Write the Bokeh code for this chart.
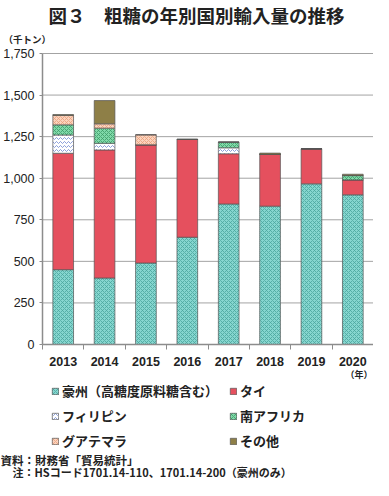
from bokeh.plotting import figure
from bokeh.models import (Range1d, FixedTicker, NumeralTickFormatter, Legend,
                          LegendItem, Label, ColumnDataSource)
from bokeh.embed import file_html
from bokeh.resources import INLINE

years = [2013, 2014, 2015, 2016, 2017, 2018, 2019, 2020]
australia = [450, 400, 490, 645, 845, 832, 966, 900]
thailand = [700, 770, 711, 588, 302, 311, 211, 90]
philippines = [110, 40, 0, 0, 36, 0, 0, 0]
south_africa = [61, 91, 0, 0, 34, 0, 0, 26]
guatemala = [56, 26, 60, 0, 0, 0, 0, 0]
others = [6, 140, 0, 2, 0, 8, 0, 8]

series = ["australia", "thailand", "philippines", "south_africa", "guatemala", "others"]
series_labels = ["豪州（高糖度原料糖含む）", "タイ", "フィリピン", "南アフリカ", "グアテマラ", "その他"]
y_ticks = [0, 250, 500, 750, 1000, 1250, 1500, 1750]

title_text = "図３　粗糖の年別国別輸入量の推移"
unit_text = "（千トン）"
year_text = "（年）"
note1 = "資料：財務省「貿易統計」"
note2 = "注：HSコード1701.14-110、1701.14-200（豪州のみ）"

src = ColumnDataSource(dict(year=years, australia=australia, thailand=thailand,
                            philippines=philippines, south_africa=south_africa,
                            guatemala=guatemala, others=others))

JP = "Noto Sans CJK JP"
NUM = "Liberation Sans"
TXT = "#222222"
AX = "#8c8c8c"

# canvas / plot-area geometry in pixels (canvas top-left origin)
W, H = 373, 480
PL, PR, PT, PB = 42, 373, 53, 344
x0, x1 = years[0] - 0.5, years[-1] + 0.5
y0, y1 = 0, 1750
xs = (PR - PL) / (x1 - x0)
ys = (PB - PT) / (y1 - y0)
x_range = Range1d(x0 - PL / xs, x1 + (W - PR) / xs)
y_range = Range1d(y0 - (H - PB) / ys, y1 + PT / ys)

p = figure(width=W, height=H, output_backend="svg", toolbar_location=None,
           x_range=x_range, y_range=y_range,
           min_border=0, min_border_left=0, min_border_right=0,
           min_border_top=0, min_border_bottom=0)
p.outline_line_color = None
p.background_fill_color = "white"
p.border_fill_color = "white"
p.xgrid.visible = False
p.ygrid.visible = False

# horizontal gridlines over the plot area
p.segment(x0=[x0] * len(y_ticks[1:]), x1=[x1] * len(y_ticks[1:]),
          y0=y_ticks[1:], y1=y_ticks[1:], line_color="#a3a3a3", line_width=1)

fills = ["#86d6cf", "#e5505e", "#ffffff", "#80d9a9", "#fbd3bd", "#8e7f47"]
hatches = ["diagonal_cross", " ", "horizontal_wave", "diagonal_cross", "diagonal_cross", " "]
hatch_colors = ["#4aa69d", "#e5505e", "#7088d0", "#3c9a68", "#e8a07c", "#8e7f47"]

rends = p.vbar_stack(series, x="year", width=0.5, source=src,
                     fill_color=fills, hatch_pattern=hatches, hatch_color=hatch_colors,
                     hatch_scale=4, hatch_weight=0.8,
                     line_color="#555555", line_width=0.7)

# axes, pinned to the plot area
p.yaxis.fixed_location = x0
p.yaxis.bounds = (y0, y1)
p.yaxis.ticker = FixedTicker(ticks=y_ticks)
p.yaxis.formatter = NumeralTickFormatter(format="0,0")
p.yaxis.axis_line_color = AX
p.yaxis.axis_line_width = 1.5
p.yaxis.major_tick_line_color = AX
p.yaxis.major_tick_out = 3
p.yaxis.major_tick_in = 0
p.yaxis.minor_tick_line_color = None
p.yaxis.major_label_standoff = 5
p.yaxis.major_label_text_font = NUM
p.yaxis.major_label_text_font_size = "12.5px"
p.yaxis.major_label_text_color = TXT

p.xaxis.fixed_location = y0
p.xaxis.bounds = (x0, x1)
p.xaxis.ticker = FixedTicker(ticks=years,
                             minor_ticks=[y - 0.5 for y in years] + [x1])
p.xaxis.axis_line_color = AX
p.xaxis.axis_line_width = 1.5
p.xaxis.major_tick_line_color = None
p.xaxis.major_tick_out = 0
p.xaxis.major_tick_in = 0
p.xaxis.minor_tick_line_color = AX
p.xaxis.minor_tick_out = 5
p.xaxis.minor_tick_in = 0
p.xaxis.major_label_standoff = 7
p.xaxis.major_label_text_font = NUM
p.xaxis.major_label_text_font_size = "12.5px"
p.xaxis.major_label_text_font_style = "bold"
p.xaxis.major_label_text_color = TXT

# legend (column-major order for 2 columns)
order = [0, 2, 4, 1, 3, 5]
items = [LegendItem(label=series_labels[i], renderers=[rends[i]]) for i in order]
legend = Legend(items=items, ncols=2, location=(51, H - 450), orientation="vertical",
                padding=0, margin=0, spacing=6, glyph_width=8, glyph_height=8,
                label_height=16, label_standoff=3, label_width=161,
                label_text_font=JP, label_text_font_size="13px",
                label_text_font_style="bold", label_text_color=TXT,
                border_line_color=None, background_fill_alpha=0)
p.add_layout(legend, "center")

def lab(text, x, y_mid, size, align="left"):
    # x, y_mid in canvas pixels from top-left; converted to frame screen units
    p.add_layout(Label(x=x, y=H - y_mid, x_units="screen", y_units="screen", text=text,
                       text_font=JP, text_font_size=size, text_font_style="bold",
                       text_align=align, text_baseline="middle", text_color=TXT))

lab(title_text, 196, 14, "18.5px", align="center")
lab(unit_text, 3, 38, "9.5px")
lab(year_text, 372, 374, "9px", align="right")
lab(note1, 0, 459, "11.5px")
lab(note2, 12, 471, "11px")

open("out.html", "w").write(file_html(p, INLINE))
